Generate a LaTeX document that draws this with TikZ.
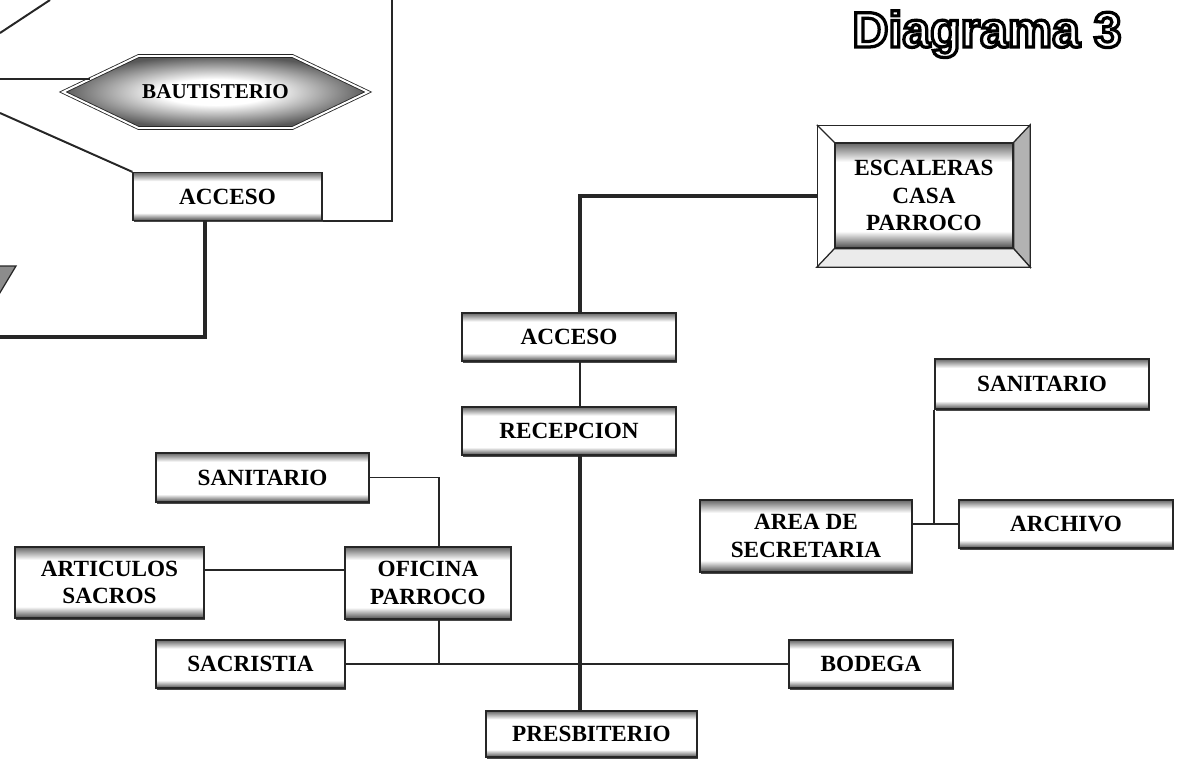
\documentclass[tikz,border=0pt]{standalone}
\usepackage{fontspec}
\setmainfont{Liberation Serif}
\newfontfamily\titlefont{Liberation Sans}
\usetikzlibrary{shapes.symbols,shadows}
\newcommand{\hueco}[1]{\special{pdf:literal direct 2 Tr 2.3 w 1 1 1 rg 0 0 0 RG}#1\special{pdf:literal direct 0 Tr 0 g 0 G}}
\pgfdeclareverticalshading{bandas}{100bp}{color(0bp)=(black!70); color(25bp)=(black!70); color(33bp)=(white); color(66bp)=(white); color(75bp)=(black!60); color(100bp)=(black!60)}
\pgfdeclareradialshading{centro}{\pgfpoint{0bp}{0bp}}{color(0bp)=(white); color(9bp)=(white); color(25bp)=(black!65); color(50bp)=(black!72)}
\tikzset{
  cajabase/.style={draw=black!85, line width=0.9pt, shading=bandas, inner sep=0pt, align=center,
    font=\fontsize{16.5}{19.5}\selectfont\bfseries},
  caja/.style={cajabase, drop shadow={shadow xshift=0.7pt, shadow yshift=-1.2pt, fill=black!80, opacity=0.9}},
  medida/.style 2 args={minimum width=#1*0.025cm, minimum height=#2*0.025cm},
  fina/.style={line width=1.4pt, black!85},
  gruesa/.style={line width=2.4pt, black!85},
}
\begin{document}
\begin{tikzpicture}[x=0.025cm,y=-0.025cm]
\useasboundingbox (0,0) rectangle (1181,761);
\coordinate (borde) at (0,0);

% titulo
\node[anchor=base] (titulo) at (987,47) {\titlefont\fontsize{35.5}{40}\selectfont\bfseries\hueco{Diagrama 3}};

% parte superior izquierda
\node[signal, signal to=west and east, signal pointer angle=51, medida={305}{72}, inner sep=0pt,
  draw=black!85, line width=0.6pt, double=white, double distance=1.4pt,
  shading=centro, font=\fontsize{15}{18}\selectfont\bfseries] (bautisterio) at (215.5,92) {BAUTISTERIO};
\node[caja, medida={189}{48}] (acceso1) at (227.5,196.5) {ACCESO};
\path[draw=black!85, line width=0.9pt, fill=black!45] (-2,266) -- (16,266) -- (-2,296) -- cycle;

% escaleras
\node[draw=black!85, line width=0.9pt, fill=white, medida={212}{141}] (marco) at (923.5,196) {};
\node[cajabase, medida={178}{105}] (escaleras) at (924,195.5) {ESCALERAS\\CASA\\PARROCO};
\path[draw=black!85, line width=0.9pt, fill=black!30] (marco.north east) -- (marco.south east) -- (escaleras.south east) -- (escaleras.north east) -- cycle;
\path[draw=black!85, line width=0.9pt, fill=black!8] (marco.south west) -- (marco.south east) -- (escaleras.south east) -- (escaleras.south west) -- cycle;
\path[draw=black!85, line width=0.9pt] (marco.north west) -- (escaleras.north west);

% eje central
\node[caja, medida={214}{48}] (acceso2) at (569,337) {ACCESO};
\node[caja, medida={214}{48}] (recepcion) at (569,431) {RECEPCION};
\node[caja, medida={211}{46}] (presbiterio) at (591.5,734) {PRESBITERIO};
\node[caja, medida={164}{48}] (bodega) at (871,664) {BODEGA};

% grupo izquierdo
\node[caja, medida={213}{49}] (sanitario1) at (262.5,477.5) {SANITARIO};
\node[caja, medida={189}{71}] (articulos) at (109.5,582.5) {ARTICULOS\\SACROS};
\node[caja, medida={166}{72}] (oficina) at (428,583) {OFICINA\\PARROCO};
\node[caja, medida={189}{48}] (sacristia) at (250.5,664) {SACRISTIA};

% grupo derecho
\node[caja, medida={214}{50}] (sanitario2) at (1042,384) {SANITARIO};
\node[caja, medida={212}{72}] (secretaria) at (806,536) {AREA DE\\SECRETARIA};
\node[caja, medida={214}{48}] (archivo) at (1066,524) {ARCHIVO};

% conexiones superiores
\coordinate (c1) at (0,33);
\coordinate (c2) at (50,0);
\coordinate (c3) at (0,113);
\coordinate (c4) at (392,0);
\coordinate (c5) at (205,337);
\path[draw,fina] (c1) -- (c2);
\path[draw,fina] (bautisterio.174) -- (bautisterio.174 -| borde);
\path[draw,fina] (c3) -- (acceso1.north west);
\path[draw,fina] (acceso1.south east) -- (acceso1.south east -| c4) -- (c4);
\path[draw,gruesa] (acceso1.south -| c5) -- (c5) -- (c5 -| borde);

% conexiones centrales
\coordinate (eje) at (580,196);
\path[draw,gruesa] (marco.west) -- (eje) -- (eje |- acceso2.north);
\path[draw,fina] (eje |- acceso2.south) -- (eje |- recepcion.north);
\path[draw,gruesa] (eje |- recepcion.south) -- (eje |- presbiterio.north);
\path[draw,fina] (sacristia.east) -- (bodega.west);

% conexiones izquierdas
\coordinate (ramal) at (439,477);
\coordinate (nivel) at (0,570);
\path[draw,fina] (sanitario1.east) -- (sanitario1.east -| ramal) -- (ramal |- oficina.north);
\path[draw,fina] (ramal |- oficina.south) -- (ramal |- sacristia.east);
\path[draw,fina] (articulos.east |- nivel) -- (oficina.west |- nivel);

% conexiones derechas
\path[draw,fina] (secretaria.east |- archivo.west) -- (archivo.west);
\path[draw,fina] (sanitario2.south west) -- (sanitario2.south west |- archivo.west);
\end{tikzpicture}
\end{document}
